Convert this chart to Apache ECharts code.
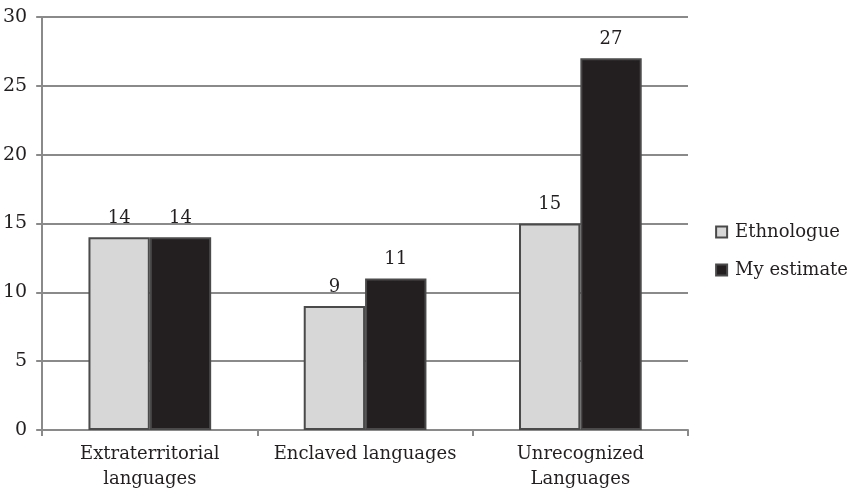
<!DOCTYPE html>
<html><head><meta charset="utf-8">
<script src="https://cdn.jsdelivr.net/npm/echarts@6/dist/echarts.min.js"></script>
<style>html,body{margin:0;padding:0;background:#fff}#c{width:853px;height:492px}</style>
</head><body><div id="c"></div>
<script>
const categories = ['Extraterritorial\nlanguages', 'Enclaved languages', 'Unrecognized\nLanguages'];
const ethnologue = [14, 9, 15];
const myEstimate = [14, 11, 27];
const seriesNames = ['Ethnologue', 'My estimate'];
const FONT = 'DejaVu Serif';
const chart = echarts.init(document.getElementById('c'));
const lbl = {show: true, position: 'top', distance: 10, color: '#231f20', fontFamily: FONT, fontSize: 18};
chart.setOption({
  animation: false,
  textStyle: {fontFamily: FONT},
  grid: {left: 42, right: 165, top: 17, bottom: 61, containLabel: false},
  legend: {
    orient: 'vertical', right: 0, top: 218, itemGap: 20, itemWidth: 11, itemHeight: 11,
    icon: 'rect',
    textStyle: {fontFamily: FONT, fontSize: 18, color: '#231f20', padding: [0, 0, 0, 3]},
    data: seriesNames
  },
  xAxis: {
    type: 'category', data: categories,
    axisLine: {lineStyle: {color: '#8a8a8a', width: 2}},
    axisTick: {show: true, alignWithLabel: false, length: 6, lineStyle: {color: '#8a8a8a', width: 2}},
    axisLabel: {interval: 0, hideOverlap: false, fontFamily: FONT, fontSize: 18, color: '#231f20', margin: 12, lineHeight: 25}
  },
  yAxis: {
    type: 'value', min: 0, max: 30, interval: 5,
    axisLine: {show: true, lineStyle: {color: '#8a8a8a', width: 2}},
    axisTick: {show: true, length: 6, lineStyle: {color: '#8a8a8a', width: 2}},
    splitLine: {lineStyle: {color: '#8a8a8a', width: 2}},
    axisLabel: {fontFamily: FONT, fontSize: 19, color: '#231f20', margin: 15}
  },
  series: [
    {name: seriesNames[0], type: 'bar', data: ethnologue, barGap: '0%', barCategoryGap: '43%',
     itemStyle: {color: '#d7d7d7', borderColor: '#4a4a4a', borderWidth: 2}, label: lbl},
    {name: seriesNames[1], type: 'bar', data: myEstimate, barGap: '0%', barCategoryGap: '43%',
     itemStyle: {color: '#231f20', borderColor: '#4a4a4a', borderWidth: 2}, label: lbl}
  ]
});
</script></body></html>
